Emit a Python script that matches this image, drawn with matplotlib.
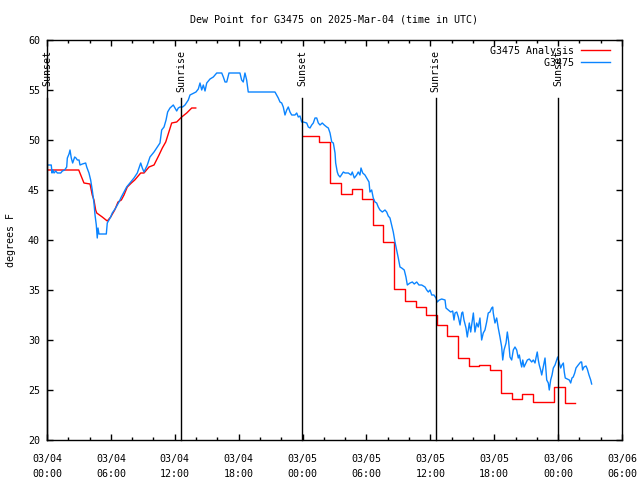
import numpy as np
import matplotlib
matplotlib.use("Agg")
import matplotlib.pyplot as plt

# ---- data (time in hours since 2025-03-04 00:00 UTC, dew point in F) ----
obs_hours = [0.03, 0.40, 0.47, 0.54, 0.66, 0.82, 0.97, 1.29, 1.44, 1.66, 1.85, 1.91, 2.07, 2.16, 2.28, 2.41, 2.47, 2.60, 2.72, 2.85,
             3.01, 3.10, 3.32, 3.63, 3.73, 3.94, 4.10, 4.25, 4.41, 4.51, 4.63, 4.72, 4.79, 4.88, 5.57, 5.66, 5.82, 5.98, 6.13, 6.45,
             6.76, 6.98, 7.23, 7.48, 7.79, 8.17, 8.48, 8.80, 8.95, 9.11, 9.42, 9.67, 10.05, 10.36, 10.61, 10.77, 10.99, 11.18, 11.33, 11.55,
             11.86, 12.02, 12.18, 12.33, 12.49, 12.74, 12.96, 13.27, 13.43, 13.80, 13.99, 14.21, 14.37, 14.53, 14.68, 14.84, 15.00, 15.31, 15.62, 15.94,
             16.41, 16.56, 16.72, 16.88, 17.09, 18.12, 18.28, 18.43, 18.59, 18.75, 18.90, 21.41, 21.72, 21.88, 22.04, 22.19, 22.35, 22.51, 22.66, 22.82,
             22.98, 23.29, 23.45, 23.60, 23.76, 23.92, 24.07, 24.39, 24.54, 24.70, 24.86, 25.01, 25.17, 25.33, 25.48, 25.64, 25.85, 26.04, 26.27, 26.42,
             26.58, 26.74, 26.89, 27.05, 27.11, 27.26, 27.36, 27.52, 27.83, 27.99, 28.30, 28.55, 28.67, 28.86, 29.08, 29.23, 29.39, 29.49, 29.65, 29.86,
             30.02, 30.24, 30.33, 30.49, 30.64, 30.80, 30.96, 31.11, 31.27, 31.49, 31.74, 31.90, 32.05, 32.21, 32.37, 32.52, 32.68, 32.84, 32.99, 33.15,
             33.31, 33.55, 33.71, 33.84, 34.09, 34.31, 34.49, 34.72, 34.93, 35.19, 35.50, 35.66, 35.81, 35.97, 36.13, 36.34, 36.53, 36.65, 36.84, 37.07,
             37.38, 37.47, 37.69, 37.91, 38.10, 38.22, 38.32, 38.48, 38.63, 38.79, 38.95, 39.04, 39.16, 39.35, 39.47, 39.66, 39.79, 39.91, 40.04, 40.19,
             40.35, 40.50, 40.66, 40.82, 40.97, 41.13, 41.29, 41.44, 41.60, 41.76, 41.86, 41.91, 42.07, 42.23, 42.38, 42.54, 42.70, 42.80, 42.92, 43.11,
             43.23, 43.36, 43.48, 43.64, 43.79, 43.95, 44.11, 44.26, 44.36, 44.49, 44.58, 44.68, 44.80, 44.98, 45.11, 45.29, 45.52, 45.67, 45.83, 45.92,
             46.04, 46.14, 46.23, 46.36, 46.46, 46.61, 46.77, 46.93, 47.08, 47.17, 47.30, 47.43, 47.55, 47.71, 47.87, 47.96, 48.11, 48.24, 48.36, 48.49,
             48.58, 48.67, 48.86, 49.05, 49.18, 49.30, 49.42, 49.56, 49.68, 49.89, 50.12, 50.21, 50.30, 50.43, 50.62, 50.74, 50.90, 51.06, 51.15]
obs_dewpt = [47.5, 47.5, 46.7, 47.0, 46.7, 46.9, 46.7, 46.7, 46.9, 47.0, 47.3, 48.2, 48.6, 49.0, 48.2, 47.7, 47.9, 48.3, 48.2, 48.0,
             48.0, 47.5, 47.6, 47.7, 47.3, 46.7, 46.0, 45.0, 43.7, 42.5, 41.5, 40.2, 41.2, 40.6, 40.6, 41.7, 42.0, 42.3, 42.7, 43.2,
             43.8, 44.3, 44.8, 45.3, 45.7, 46.2, 46.7, 47.7, 47.2, 46.8, 47.5, 48.3, 48.8, 49.3, 49.7, 51.0, 51.3, 52.0, 52.8, 53.2,
             53.5, 53.2, 52.9, 53.2, 53.3, 53.3, 53.5, 54.0, 54.5, 54.7, 54.8, 55.1, 55.7, 55.0, 55.5, 54.9, 55.7, 56.1, 56.3, 56.7,
             56.7, 56.3, 55.8, 55.8, 56.7, 56.7, 56.0, 55.8, 56.7, 56.0, 54.8, 54.8, 54.2, 53.8, 53.7, 53.3, 52.5, 53.0, 53.3, 52.8,
             52.5, 52.5, 52.7, 52.3, 52.4, 51.8, 51.8, 51.7, 51.3, 51.2, 51.5, 51.7, 52.2, 52.2, 51.7, 51.5, 51.7, 51.5, 51.3, 51.2,
             50.7, 49.8, 49.7, 48.7, 47.7, 46.8, 46.5, 46.3, 46.8, 46.7, 46.7, 46.5, 46.8, 46.2, 46.5, 46.8, 46.5, 47.2, 46.7, 46.5,
             46.2, 45.8, 44.8, 45.0, 44.2, 43.8, 43.7, 43.3, 43.0, 42.8, 43.0, 42.8, 42.4, 42.2, 41.5, 40.8, 39.8, 39.0, 38.2, 37.3,
             37.2, 37.0, 36.3, 35.5, 35.7, 35.8, 35.6, 35.8, 35.5, 35.5, 35.3, 35.0, 34.8, 35.0, 34.5, 34.5, 34.2, 33.8, 34.0, 34.1,
             34.0, 33.2, 33.0, 32.8, 32.9, 32.0, 32.7, 32.8, 32.3, 31.5, 32.7, 32.8, 32.0, 31.2, 30.3, 31.7, 30.8, 31.7, 32.7, 30.8,
             31.7, 31.3, 32.2, 30.0, 30.7, 31.0, 31.8, 32.7, 32.8, 33.2, 33.3, 32.7, 31.7, 32.2, 31.2, 30.3, 29.3, 28.0, 29.0, 29.7,
             30.8, 29.8, 28.3, 28.0, 29.0, 29.3, 29.0, 28.2, 28.5, 27.7, 27.3, 28.0, 27.3, 27.7, 28.0, 28.1, 27.8, 28.0, 27.7, 28.2,
             28.8, 28.0, 27.5, 27.0, 26.5, 27.3, 28.2, 26.0, 25.7, 25.0, 26.0, 26.5, 27.2, 27.5, 28.0, 28.3, 27.7, 27.2, 27.5, 27.7,
             26.8, 26.2, 26.1, 26.0, 25.7, 26.2, 26.3, 26.7, 27.2, 27.5, 27.8, 27.8, 27.0, 27.3, 27.4, 27.1, 26.5, 26.0, 25.6]

ana1_hours = [0.0, 2.98, 3.47, 4.04, 4.25, 4.41, 4.57, 4.67, 5.19, 5.66, 5.98, 6.36, 6.67, 6.98, 7.23, 7.54, 7.92, 8.24, 8.80, 9.11,
              9.58, 10.05, 10.52, 10.83, 11.15, 11.71, 12.18, 12.65, 13.12, 13.59, 13.97]
ana1_dewpt = [47.0, 47.0, 45.7, 45.6, 44.5, 44.0, 43.0, 42.7, 42.3, 41.9, 42.3, 43.0, 43.8, 44.0, 44.5, 45.3, 45.7, 46.0, 46.7, 46.7,
              47.3, 47.5, 48.5, 49.2, 49.8, 51.7, 51.8, 52.3, 52.7, 53.2, 53.2]

ana2_hours = [24.0, 25.55, 26.55, 27.6, 28.6, 29.6, 30.6, 31.6, 32.55, 33.6, 34.65, 35.6, 36.6, 37.55, 38.6, 39.6, 40.6, 41.6,
              42.6, 43.65, 44.6, 45.6, 47.6, 48.6, 49.55]
ana2_dewpt = [50.4, 49.8, 45.7, 44.6, 45.1, 44.1, 41.5, 39.8, 35.1, 33.9, 33.3, 32.5, 31.5, 30.4, 28.2, 27.4, 27.5, 27.0,
              24.7, 24.1, 24.6, 23.8, 25.3, 23.7, 23.7]

sun_hours = [0.0, 12.58, 23.95, 36.5, 47.99]
sun_labels = ["Sunset", "Sunrise", "Sunset", "Sunrise", "Sunset"]

xtick_hours = [0, 6, 12, 18, 24, 30, 36, 42, 48, 54]
xtick_labels = ["03/04\n00:00", "03/04\n06:00", "03/04\n12:00", "03/04\n18:00", "03/05\n00:00",
                "03/05\n06:00", "03/05\n12:00", "03/05\n18:00", "03/06\n00:00", "03/06\n06:00"]
ytick_vals = [20, 25, 30, 35, 40, 45, 50, 55, 60]

# ---- style ----
FONT = "DejaVu Sans Mono"
FS = 7.2
plt.rcParams["font.family"] = [FONT]
plt.rcParams["font.size"] = FS

fig = plt.figure(figsize=(6.4, 4.8), dpi=100)
ax = fig.add_axes([47 / 640, 40 / 480, 575 / 640, 400 / 480])

red = "#ff0000"
blue = "#0a84ff"

ax.plot(ana1_hours, ana1_dewpt, color=red, lw=1.0, label="G3475 Analysis")
ax.plot(ana2_hours, ana2_dewpt, color=red, lw=1.0, drawstyle="steps-post")
ax.plot(obs_hours, obs_dewpt, color=blue, lw=1.0, label="         G3475")

trans = ax.get_xaxis_transform()
for h, lab in zip(sun_hours, sun_labels):
    ax.plot([h, h], [0, 0.855], color="black", lw=1.0, transform=trans, clip_on=False)
    ax.text(h, 0.975, lab, rotation=90, ha="center", va="top", transform=trans, fontsize=FS)

ax.set_xlim(0, 54)
ax.set_ylim(20, 60)
ax.set_xticks(xtick_hours)
ax.set_xticklabels(xtick_labels, linespacing=1.7)
ax.set_xticks(np.arange(0, 55, 2), minor=True)
ax.set_yticks(ytick_vals)
ax.tick_params(which="both", direction="in", top=True, right=True, width=1.0)
ax.tick_params(which="major", length=4.3)
ax.tick_params(which="minor", length=2.2)
ax.tick_params(axis="x", pad=10)
ax.tick_params(axis="y", pad=5)
for s in ax.spines.values():
    s.set_linewidth(1.0)

ax.set_ylabel("degrees F", labelpad=9)
fig.text(334.5 / 640, 1 - 20 / 480, "Dew Point for G3475 on 2025-Mar-04 (time in UTC)",
         ha="center", va="center", fontsize=FS)

leg = ax.legend(loc="upper right", bbox_to_anchor=(0.979, 0.985), frameon=False,
                markerfirst=False, handlelength=2.9, handletextpad=0.7,
                labelspacing=0.2, borderpad=0, borderaxespad=0, fontsize=FS)

fig.savefig("out.png", dpi=100)
